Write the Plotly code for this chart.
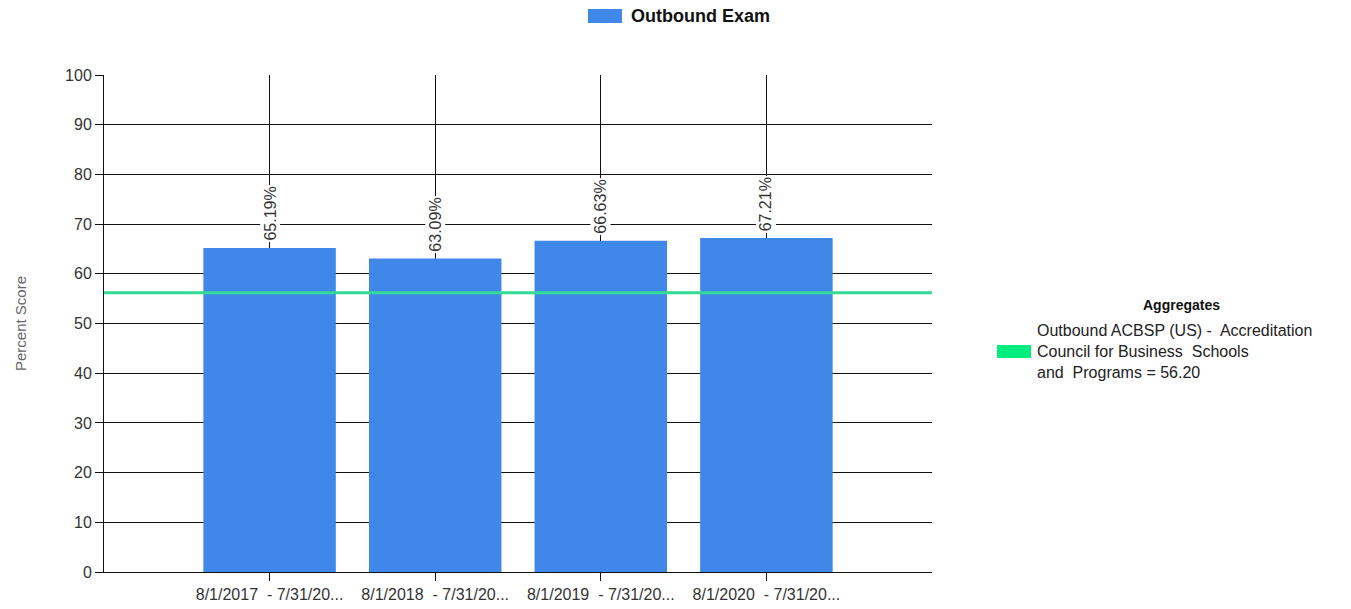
import plotly.graph_objects as go

categories = ["8/1/2017  - 7/31/20...", "8/1/2018  - 7/31/20...", "8/1/2019  - 7/31/20...", "8/1/2020  - 7/31/20..."]
scores = [65.19, 63.09, 66.63, 67.21]
aggregate_value = 56.20
aggregate_label = "Outbound ACBSP (US) -  Accreditation<br>Council for Business  Schools<br>and  Programs = 56.20"
series_name = "Outbound Exam"

W, H = 1351, 609
L, R, T, B = 104, 932, 75, 572

def px(x):
    return (x - L) / (R - L)

def py(y):
    return (B - y) / (B - T)

positions = list(range(len(categories)))
font = "Liberation Sans, Arial, sans-serif"

fig = go.Figure()
fig.add_trace(go.Scatter(
    x=[-1, len(categories)], y=[aggregate_value, aggregate_value],
    mode="lines", line=dict(color="#33da96", width=3), showlegend=False, hoverinfo="skip"))
fig.add_trace(go.Bar(
    x=positions, y=scores, width=0.8, marker=dict(color="#3f88ea", line=dict(width=0)),
    name=series_name, showlegend=False))

for xv, v in zip(positions, scores):
    fig.add_annotation(x=xv, y=v, xref="x", yref="y", text=f"{v:.2f}%", textangle=-90,
                       showarrow=False, yanchor="bottom", xanchor="center", yshift=5,
                       bgcolor="white", borderpad=1,
                       font=dict(family=font, size=16, color="#333333"))

# top legend
fig.add_shape(type="rect", xref="paper", yref="paper", x0=px(588), x1=px(622), y0=py(23), y1=py(9),
              fillcolor="#3f88ea", line=dict(width=0))
fig.add_annotation(xref="paper", yref="paper", x=px(629), y=py(16), xanchor="left", yanchor="middle",
                   text="<b>" + series_name + "</b>", showarrow=False,
                   font=dict(family=font, size=18, color="#111111"))

# right legend
fig.add_annotation(xref="paper", yref="paper", x=px(1181), y=py(305), xanchor="center", yanchor="middle",
                   text="<b>Aggregates</b>", showarrow=False,
                   font=dict(family=font, size=14, color="#111111"))
fig.add_shape(type="rect", xref="paper", yref="paper", x0=px(997), x1=px(1031), y0=py(358), y1=py(345),
              fillcolor="#00ee80", line=dict(width=0))
fig.add_annotation(xref="paper", yref="paper", x=px(1035), y=py(351), xanchor="left", yanchor="middle",
                   align="left", text=aggregate_label, showarrow=False,
                   font=dict(family=font, size=16, color="#222222"))

fig.update_layout(
    width=W, height=H, autosize=False,
    margin=dict(l=L, r=W - R, t=T, b=H - B, pad=0),
    paper_bgcolor="white", plot_bgcolor="white",
    bargap=0.2, showlegend=False,
    font=dict(family=font, size=13, color="#333333"),
)
fig.update_xaxes(
    range=[-1, len(categories)], tickvals=positions, ticktext=categories,
    showgrid=True, gridcolor="#111111", gridwidth=1, zeroline=False,
    showline=True, linecolor="#111111", linewidth=1, automargin=False,
    ticks="outside", ticklen=8, tickcolor="#111111",
    tickfont=dict(family=font, size=16, color="#333333"),
)
fig.update_yaxes(
    range=[0, 100], dtick=10, showgrid=True, gridcolor="#111111", gridwidth=1,
    zeroline=False, showline=True, linecolor="#111111", linewidth=1, automargin=False,
    ticks="outside", ticklen=8, tickcolor="#111111",
    tickfont=dict(family=font, size=16, color="#333333"),
    title=dict(text="Percent Score", font=dict(family=font, size=15, color="#666666"), standoff=34),
)

fig.write_html("out.html", config={"displayModeBar": False},
               post_script="document.body.style.margin='0';document.body.style.padding='0';document.body.style.overflow='hidden';")
